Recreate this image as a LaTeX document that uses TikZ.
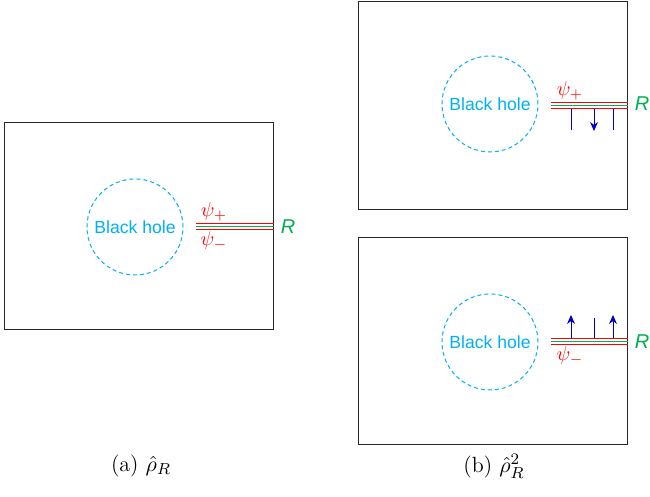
\documentclass[tikz,border=0pt]{standalone}
\usepackage{fontspec}
\newfontfamily\bhfont{Liberation Sans}
\definecolor{bhcyan}{RGB}{0,176,240}
\definecolor{radgreen}{RGB}{0,176,80}
\definecolor{modered}{RGB}{255,0,0}
\definecolor{tickblue}{RGB}{0,0,192}
\usetikzlibrary{arrows.meta}
\newcommand{\modeline}[2]{%
    \draw[modered, line width=0.7pt] ([yshift=1.5pt]#1) -- ([yshift=1.5pt]#2);
    \draw[radgreen, line width=0.7pt] (#1) -- (#2);
    \draw[modered, line width=0.7pt] ([yshift=-1.5pt]#1) -- ([yshift=-1.5pt]#2);
}
\begin{document}
\begin{tikzpicture}[x=0.5pt, y=-0.5pt,
    frame/.style={draw=black!85, line width=0.5pt},
    hole/.style={circle, draw=bhcyan, dash pattern=on 2pt off 1.5pt, line width=0.5pt,
        minimum size=48pt, inner sep=0pt, text=bhcyan, font=\bhfont\fontsize{8.8}{11}\selectfont},
    mode/.style={text=modered, inner sep=0pt, font=\fontsize{10}{12}\selectfont},
    radlabel/.style={text=radgreen, inner sep=0pt, font=\bhfont\itshape\fontsize{10}{12}\selectfont},
    caption/.style={font=\fontsize{11}{13}\selectfont},
    tick/.style={tickblue, line width=0.45pt},
    flow/.style={tick, -{Stealth[length=4.5pt, width=4pt]}}]
    \useasboundingbox (0,0) rectangle (650,497);
    % (a) single copy
    \draw[frame] (5,123) rectangle (274,330);
    \node[hole] (holeA) at (135,227) {Black hole};
    \coordinate (startA) at (196,226.5);
    \coordinate (endA) at (274,226.5);
    \modeline{startA}{endA}
    \node[mode] (plusA) at (214,212) {$\psi_+$};
    \node[mode] (minusA) at (214,241) {$\psi_-$};
    \node[radlabel] (radA) at (288,226.5) {R};
    \node[caption] (capA) at (141,466) {(a) $\hat{\rho}_R$};
    % (b) two copies, upper
    \draw[frame] (359,2) rectangle (628,210);
    \node[hole] (holeB) at (490,104) {Black hole};
    \coordinate (startB) at (551,105.5);
    \coordinate (endB) at (628,105.5);
    \modeline{startB}{endB}
    \node[mode] (plusB) at (570,91) {$\psi_+$};
    \node[radlabel] (radB) at (642,104) {R};
    \foreach \x in {571,613} {
        \draw[tick] (\x,109) -- (\x,130);
    }
    \draw[flow] (594,109) -- (594,131);
    % (b) two copies, lower
    \draw[frame] (359,238) rectangle (628,445);
    \node[hole] (holeC) at (490,342) {Black hole};
    \coordinate (startC) at (551,341.5);
    \coordinate (endC) at (628,341.5);
    \modeline{startC}{endC}
    \node[mode] (minusC) at (570,356) {$\psi_-$};
    \node[radlabel] (radC) at (642,341.5) {R};
    \foreach \x in {571,613} {
        \draw[flow] (\x,338) -- (\x,315);
    }
    \draw[tick] (594,338) -- (594,318);
    \node[caption] (capB) at (494,466) {(b) $\hat{\rho}_R^2$};
\end{tikzpicture}
\end{document}
